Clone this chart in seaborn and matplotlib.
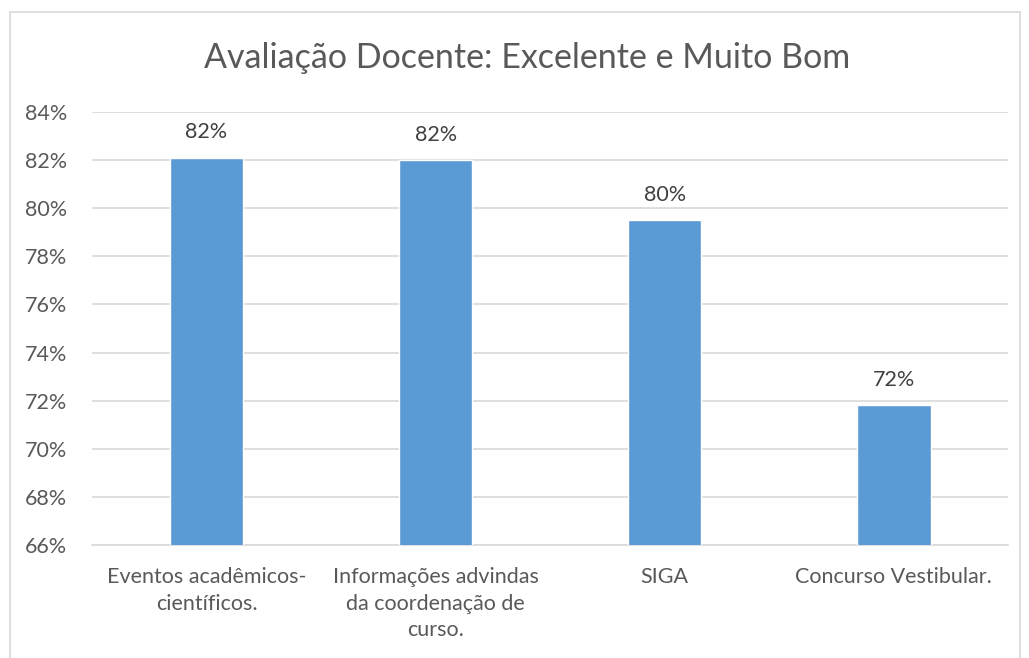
import matplotlib
matplotlib.use("Agg")
import matplotlib.pyplot as plt
import seaborn as sns
import pandas as pd
from matplotlib.patches import Rectangle

categories = ["Eventos acadêmicos-\ncientíficos.",
              "Informações advindas\nda coordenação de\ncurso.",
              "SIGA",
              "Concurso Vestibular."]
values = [82.1, 82.0, 79.5, 71.8]
labels = ["82%", "82%", "80%", "72%"]
title = "Avaliação Docente: Excelente e Muito Bom"

sns.set_theme(style="white")
plt.rcParams['font.family'] = ['Lato', 'DejaVu Sans']

df = pd.DataFrame({"cat": categories, "val": values})

fig = plt.figure(figsize=(10.29, 6.58), dpi=100)
ax = fig.add_axes([0.0894, 0.1717, 0.8906, 0.6581])

sns.barplot(data=df, x="cat", y="val", color="#5B9BD5", width=0.32,
            saturation=1, ax=ax, zorder=3)

FS = 15.5
ax.set_ylim(66, 84)
yt = list(range(66, 85, 2))
ax.set_yticks(yt)
ax.set_yticklabels([f"{t}%" for t in yt], color="#595959", fontsize=FS)
ax.grid(axis="y", color="#D9D9D9", linewidth=1.2, zorder=0)
ax.set_xlim(-0.5, 3.5)
for s in ["top", "right", "left"]:
    ax.spines[s].set_visible(False)
ax.spines["bottom"].set_color("#D9D9D9")
ax.spines["bottom"].set_linewidth(1.2)
ax.tick_params(axis="y", length=0, pad=18)
ax.tick_params(axis="x", length=0, pad=16)
for t in ax.get_xticklabels():
    t.set_color("#595959")
    t.set_fontsize(FS)
    t.set_verticalalignment("top")
    t.set_linespacing(1.4)
ax.set_xlabel("")
ax.set_ylabel("")

for i, (v, l) in enumerate(zip(values, labels)):
    ax.annotate(l, (i, v), xytext=(0, 11), textcoords="offset points",
                ha="center", va="bottom", color="#404040", fontsize=FS)

fig.text(0.512, 0.912, title, ha="center", va="center", fontsize=24.5,
         color="#595959")

fig.patches.append(Rectangle((10 / 1029, -0.01), 1010 / 1029, 1 - 12 / 658 + 0.01,
                             transform=fig.transFigure, fill=False,
                             edgecolor="#D9D9D9", linewidth=1.2))

fig.savefig("out.png", dpi=100)
